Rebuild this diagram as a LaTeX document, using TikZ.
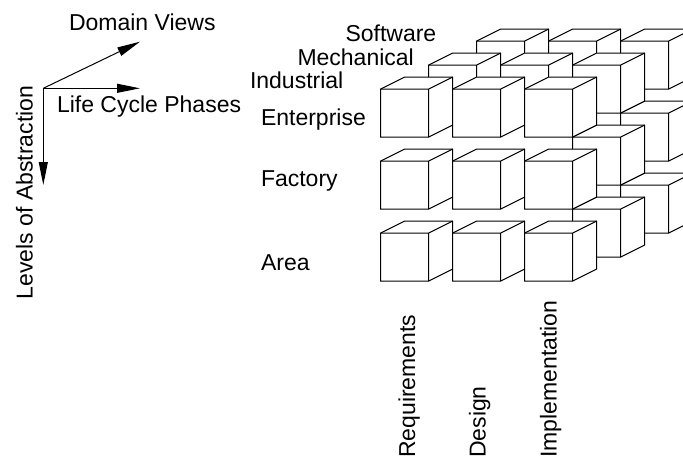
\documentclass[tikz,border=0pt]{standalone}
\usepackage{fontspec}
\setmainfont{Liberation Sans}
\usetikzlibrary{arrows.meta}
\begin{document}
\begin{tikzpicture}[x=1pt,y=-1pt,line width=1pt,line join=miter,
  lbl/.style={inner sep=0pt,font=\fontsize{23}{27}\selectfont,anchor=base west},
  vlbl/.style={lbl,rotate=90},
  axis/.style={-{Triangle[length=23pt,width=9pt]},line width=1pt},
  cubeface/.style={draw=black,fill=white,line width=1pt},
  cubeedge/.style={draw=black,line width=1pt}]
\useasboundingbox (0,0) rectangle (683,463);
% cubes: back layer first; only the outer (visible) cubes
\begin{scope}
\clip (0,0) rectangle (683,463);
\foreach \k in {2,1,0}{
  \foreach \j in {0,1,2}{
    \foreach \i in {0,1,2}{
      \pgfmathtruncatemacro\cubevis{(\k==0 || \j==0 || \i==2) ? 1 : 0}
      \ifnum\cubevis=1
      \pgfmathsetmacro\cx{380.7+72*\i+48*\k}
      \pgfmathsetmacro\cy{89+72*\j-24*\k}
      \path[cubeface] (\cx,\cy+48) -- (\cx,\cy) -- ++(24,-12) -- ++(48,0) -- ++(0,48) -- ++(-24,12) -- cycle;
      \path[cubeedge] (\cx,\cy) -- ++(48,0) -- ++(0,48) (\cx+48,\cy) -- ++(24,-12);
      \fi
    }
  }
}
\end{scope}
% axes
\coordinate (O) at (43.3,88.3);
\coordinate (dv) at (140,41.7);
\coordinate (lc) at (140,88.3);
\coordinate (la) at (43.3,185);
\draw[axis] (O) -- (dv);
\draw[axis] (O) -- (lc);
\draw[axis] (O) -- (la);
\node[lbl] (tdv) at (68.5,30) {Domain Views};
\node[lbl] (tlc) at (56.5,112.3) {Life Cycle Phases};
\node[lbl,rotate=90,anchor=base] (tla) at (32.7,192.5) {Levels of Abstraction};
% domain labels
\node[lbl] (tsw) at (345,41.7) {Software};
\node[lbl] (tme) at (297,65) {Mechanical};
\node[lbl] (tin) at (249.5,88.3) {Industrial};
% abstraction labels
\node[lbl] (ten) at (260.5,125) {Enterprise};
\node[lbl] (tfa) at (260.5,186.7) {Factory};
\node[lbl] (tar) at (260.5,270) {Area};
% phase labels
\node[vlbl] (tre) at (415,458.3) {Requirements};
\node[vlbl] (tde) at (485.5,458.3) {Design};
\node[vlbl] (tim) at (556.7,458.3) {Implementation};
\end{tikzpicture}
\end{document}
